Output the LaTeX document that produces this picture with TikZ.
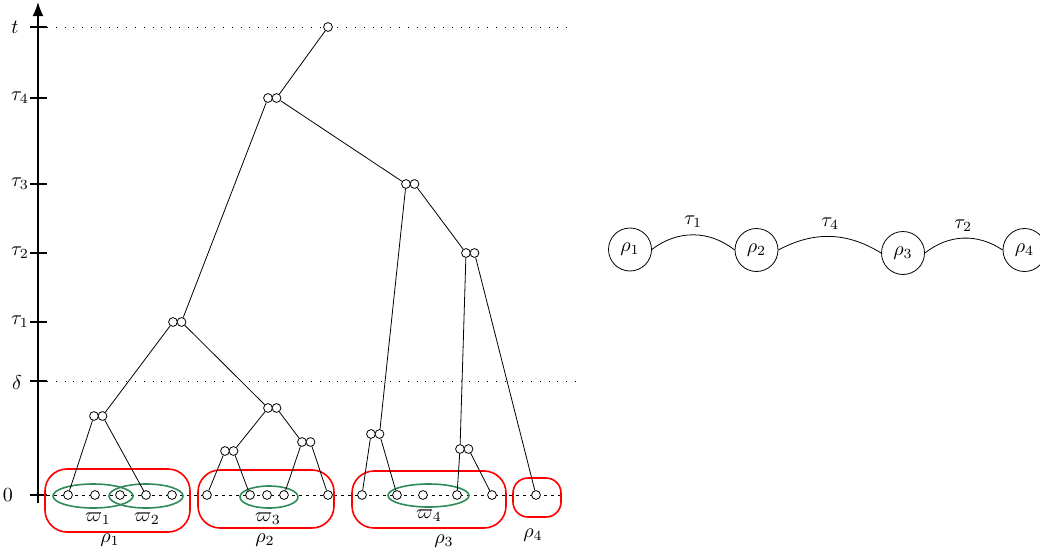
\documentclass[tikz,border=0pt]{standalone}
\usepackage{tikz}
\definecolor{groupgreen}{RGB}{46, 139, 87}
\usetikzlibrary{
  arrows.meta,
  positioning,
  shapes,
}
\tikzset{
  >=Latex,
  leaf/.style={draw,circle,fill=white,inner sep=0pt,minimum size=4.4pt},
  groupellipse/.style={draw=groupgreen,thick,ellipse,inner sep=0pt},
  clusterbox/.style={draw=red,thick,rectangle,rounded corners=11pt,inner sep=0pt},
  cluster/.style={draw,circle,minimum size=21.5pt,inner sep=1pt},
  axistick/.style={thick},
  levelline/.style={dash pattern=on 0.4pt off 4pt},
  zeroline/.style={dash pattern=on 1.5pt off 2pt},
}

\begin{document}
\begin{tikzpicture}[x=0.5pt,y=-0.5pt]
      \useasboundingbox (0,0) rectangle (1040,557);

      % time axis
      \coordinate (ax0) at (38,503);
      \coordinate (axtop) at (38,2);
      \draw[thick,-{Latex[length=7pt,width=5.5pt]}] (ax0) -- (axtop);

      \coordinate (yt)  at (38,27);
      \coordinate (y4)  at (38,98);
      \coordinate (y3)  at (38,184);
      \coordinate (y2)  at (38,253);
      \coordinate (y1)  at (38,322);
      \coordinate (yd)  at (38,381);
      \coordinate (y0)  at (38,495);
      \foreach \c in {yt,y4,y3,y2,y1,yd,y0}
        \draw[axistick] ([xshift=-4pt]\c) -- ([xshift=4.5pt]\c);

      \node (lt) at (15,27)  {$t$};
      \node (l4) at (20,98)  {$\tau_4$};
      \node (l3) at (20,184) {$\tau_3$};
      \node (l2) at (20,253) {$\tau_2$};
      \node (l1) at (20,322) {$\tau_1$};
      \node (ld) at (17,383) {$\delta$};
      \node (l0) at (8,495)  {$0$};

      \coordinate (tend) at (570,27);
      \coordinate (dend) at (577,381);
      \coordinate (zend) at (560,495);
      \draw[levelline] ([xshift=4.5pt]yt) -- (tend);
      \draw[levelline] ([xshift=4.5pt]yd) -- (dend);
      \draw[zeroline]  ([xshift=4.5pt]y0) -- (zend);

      % clusters rho
      \node[clusterbox,minimum width=72.5pt,minimum height=31.5pt] (R1) at (117.5,500.5) {};
      \node[clusterbox,minimum width=68pt,minimum height=29pt]     (R2) at (266,499)     {};
      \node[clusterbox,minimum width=77pt,minimum height=28.5pt]   (R3) at (429,499.5)   {};
      \node[clusterbox,minimum width=24pt,minimum height=19.5pt,rounded corners=7.5pt] (R4) at (537,497.5) {};
      \node (rl1) at (110,540) {$\rho_1$};
      \node (rl2) at (265,540) {$\rho_2$};
      \node (rl3) at (444,541) {$\rho_3$};
      \node (rl4) at (533,535) {$\rho_4$};

      % groups varpi
      \node[groupellipse,minimum width=40pt,minimum height=12pt]   (W1) at (93,496)    {};
      \node[groupellipse,minimum width=37pt,minimum height=12pt]   (W2) at (146,496)   {};
      \node[groupellipse,minimum width=29pt,minimum height=11pt]   (W3) at (269,497)   {};
      \node[groupellipse,minimum width=40.5pt,minimum height=11.5pt] (W4) at (428.5,495.5) {};
      \node (wl1) at (98,519)  {$\varpi_1$};
      \node (wl2) at (147,519) {$\varpi_2$};
      \node (wl3) at (268,519) {$\varpi_3$};
      \node (wl4) at (429,516) {$\varpi_4$};

      % leaves at time 0
      \node[leaf] (x1)  at (68,495)  {};
      \node[leaf] (x2)  at (95,495)  {};
      \node[leaf] (x3)  at (120,495) {};
      \node[leaf] (x4)  at (146,495) {};
      \node[leaf] (x5)  at (172,495) {};
      \node[leaf] (x6)  at (207,495) {};
      \node[leaf] (x7)  at (250,495) {};
      \node[leaf] (x8)  at (267,495) {};
      \node[leaf] (x9)  at (284,495) {};
      \node[leaf] (x10) at (328,495) {};
      \node[leaf] (x11) at (362,495) {};
      \node[leaf] (x12) at (397,495) {};
      \node[leaf] (x13) at (423,495) {};
      \node[leaf] (x14) at (457,495) {};
      \node[leaf] (x15) at (492,495) {};
      \node[leaf] (x16) at (536,495) {};

      % merge points
      \node[leaf] (root) at (328,27) {};
      \node[leaf] (T4l) at (268,98)  {};  \node[leaf] (T4r) at (276.5,98)  {};
      \node[leaf] (T3l) at (406,184) {};  \node[leaf] (T3r) at (414.5,184) {};
      \node[leaf] (T2l) at (466,253) {};  \node[leaf] (T2r) at (474.5,253) {};
      \node[leaf] (T1l) at (173,322) {};  \node[leaf] (T1r) at (181.5,322) {};
      \node[leaf] (Al)  at (94,416)  {};  \node[leaf] (Ar)  at (102.5,416) {};
      \node[leaf] (Bl)  at (268,408) {};  \node[leaf] (Br)  at (276.5,408) {};
      \node[leaf] (Cl)  at (225,451) {};  \node[leaf] (Cr)  at (233.5,451) {};
      \node[leaf] (Dl)  at (302,442) {};  \node[leaf] (Dr)  at (310.5,442) {};
      \node[leaf] (El)  at (371,434) {};  \node[leaf] (Er)  at (379.5,434) {};
      \node[leaf] (Fl)  at (460,449) {};  \node[leaf] (Fr)  at (468.5,449) {};

      \draw (root) -- (T4r);
      \draw (T4l) -- (T1r);
      \draw (T4r) -- (T3l);
      \draw (T3l) -- (Er);
      \draw (T3r) -- (T2l);
      \draw (T2l) -- (Fl);
      \draw (T2r) -- (x16);
      \draw (T1l) -- (Ar);
      \draw (T1r) -- (Bl);
      \draw (Al) -- (x1);
      \draw (Ar) -- (x4);
      \draw (Bl) -- (Cr);
      \draw (Br) -- (Dl);
      \draw (Cl) -- (x6);
      \draw (Cr) -- (x7);
      \draw (Dl) -- (x9);
      \draw (Dr) -- (x10);
      \draw (El) -- (x11);
      \draw (Er) -- (x12);
      \draw (Fl) -- (x14);
      \draw (Fr) -- (x15);

      % cluster graph
      \node[cluster] (c1) at (630,249.5) {$\rho_1$};
      \node[cluster] (c2) at (756.5,250) {$\rho_2$};
      \node[cluster] (c3) at (903,253)   {$\rho_3$};
      \node[cluster] (c4) at (1024.5,250) {$\rho_4$};
      \draw (c1.east) to[bend left=38] node[above] {$\tau_1$} (c2.west);
      \draw (c2.east) to[bend left=30] node[above] {$\tau_4$} (c3.west);
      \draw (c3.east) to[bend left=36] node[above] {$\tau_2$} (c4.west);

    \end{tikzpicture}
\end{document}
